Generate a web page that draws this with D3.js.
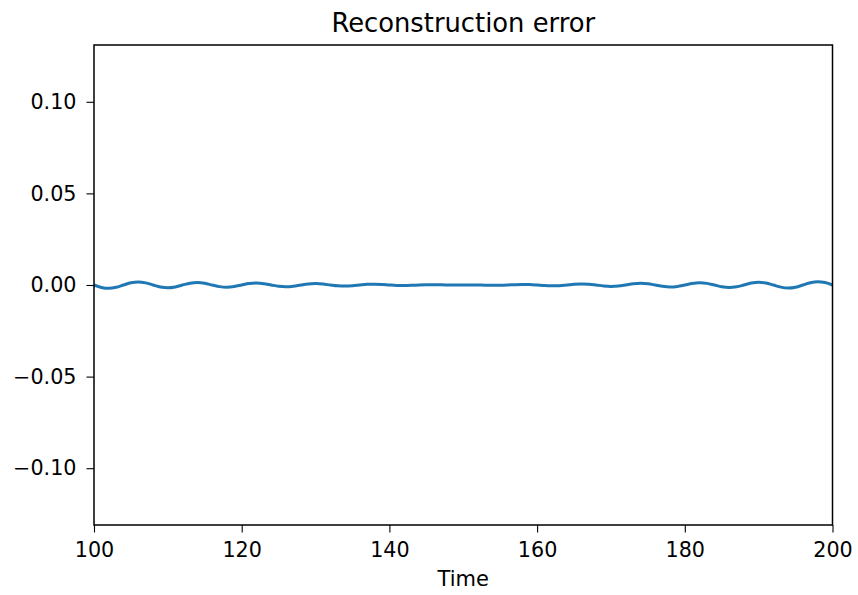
<!DOCTYPE html>
<html><head><meta charset="utf-8">
<script src="https://cdn.jsdelivr.net/npm/d3@7"></script>
<style>body{margin:0;background:#fff}svg{display:block}text{font-family:"DejaVu Sans",sans-serif;fill:#000}</style>
</head><body><svg id="c" width="858" height="595"></svg>
<script>
const title = "Reconstruction error";
const xLabel = "Time";
const xTicks = [100, 120, 140, 160, 180, 200];
const yTicks = [0.10, 0.05, 0.00, -0.05, -0.10];
const times = d3.range(100, 201);
const errors = [
 0, -0.00132, -0.00182, -0.00126, 0, 0.00121, 0.00167, 0.00116,
 0, -0.00110, -0.00152, -0.00105, 0, 0.00099, 0.00137, 0.00094,
 0, -0.00089, -0.00122, -0.00083, 0, 0.00078, 0.00106, 0.00073,
 0, -0.00067, -0.00091, -0.00062, 0, 0.00056, 0.00076, 0.00051,
 0, -0.00046, -0.00061, -0.00040, 0, 0.00035, 0.00046, 0.00030,
 0, -0.00024, -0.00030, -0.00019, 0, 0.00013, 0.00015, 0.00008,
 0, -0.00003, 0, 0.00003, 0, -0.00008, -0.00015, -0.00013,
 0, 0.00019, 0.00030, 0.00024, 0, -0.00030, -0.00046, -0.00035,
 0, 0.00040, 0.00061, 0.00046, 0, -0.00051, -0.00076, -0.00056,
 0, 0.00062, 0.00091, 0.00067, 0, -0.00073, -0.00106, -0.00078,
 0, 0.00083, 0.00122, 0.00089, 0, -0.00094, -0.00137, -0.00099,
 0, 0.00105, 0.00152, 0.00110, 0, -0.00116, -0.00167, -0.00121,
 0, 0.00126, 0.00182, 0.00132, 0
];

const L = 94, R = 832.5, T = 45, B = 525;
const svg = d3.select("#c");
const x = d3.scaleLinear().domain([100, 200]).range([L, R]);
const y = d3.scaleLinear().domain([-0.131, 0.131]).range([B, T]);

const fmt = v => (v < 0 ? "\u2212" : "") + Math.abs(v).toFixed(2);

const gx = svg.append("g").attr("transform", `translate(0,${B})`)
  .call(d3.axisBottom(x).tickValues(xTicks).tickFormat(d3.format("d")).tickSize(7.5).tickPadding(10));
const gy = svg.append("g").attr("transform", `translate(${L},0)`)
  .call(d3.axisLeft(y).tickValues(yTicks).tickFormat(fmt).tickSize(7.5).tickPadding(10));
[gx, gy].forEach(g => {
  g.select(".domain").remove();
  g.selectAll("line").attr("stroke", "#000").attr("stroke-width", 1.1);
  g.selectAll("text").style("font-family", "DejaVu Sans").style("font-size", "20.7px").attr("fill", "#222");
});

svg.append("path")
  .datum(times.map((t, i) => [t, errors[i]]))
  .attr("fill", "none").attr("stroke", "#1f77b4").attr("stroke-width", 3)
  .attr("stroke-linejoin", "round").attr("stroke-linecap", "butt")
  .attr("d", d3.line().x(d => x(d[0])).y(d => y(d[1])).curve(d3.curveCatmullRom));

svg.append("rect").attr("x", L).attr("y", T).attr("width", R - L).attr("height", B - T)
  .attr("fill", "none").attr("stroke", "#000").attr("stroke-width", 1.5);

svg.append("text").attr("x", (L + R) / 2).attr("y", 32).attr("text-anchor", "middle")
  .style("font-size", "25.8px").attr("fill", "#222").text(title);
svg.append("text").attr("x", (L + R) / 2).attr("y", 586).attr("text-anchor", "middle")
  .style("font-size", "21px").attr("fill", "#222").text(xLabel);
</script></body></html>
